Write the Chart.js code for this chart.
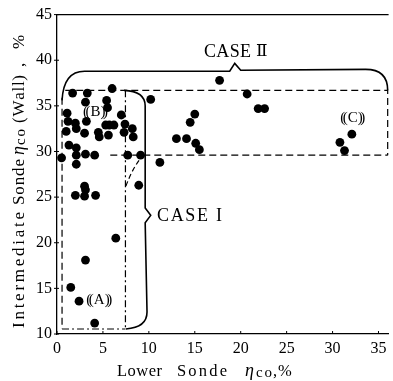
<!DOCTYPE html>
<html>
<head>
<meta charset="utf-8">
<script src="https://cdn.jsdelivr.net/npm/chart.js@4"></script>
<style>
html,body{margin:0;padding:0;background:#fff;}
#c{display:block;}
</style>
</head>
<body>
<canvas id="c" width="393" height="381"></canvas>
<script>
// ---- data ----
const lowerSonde = [
  0.5,1.1,1.2,1.0,1.3,1.7,2.0,2.1,2.1,2.1,2.1,3.0,3.1,3.3,3.1,3.2,4.1,4.5,4.6,5.4,
  5.5,5.3,5.7,6.2,5.6,6.0,7.0,7.4,7.3,8.2,8.3,7.7,9.1,8.9,10.2,11.2,
  2.0,3.0,3.1,3.0,4.2,6.4,3.1,1.5,2.4,4.1,
  13.0,14.1,14.5,15.0,15.1,15.5,17.7,20.7,21.9,22.6,30.8,31.3,32.1
];
const intermediateSonde = [
  29.3,34.2,33.3,32.2,30.7,36.4,33.1,32.5,30.4,29.6,28.6,32.0,29.7,36.4,35.4,33.3,29.6,32.1,31.6,35.6,
  34.8,32.9,32.9,32.9,31.8,36.9,34.0,33.0,32.1,32.5,31.6,29.6,29.6,26.3,35.7,28.8,
  25.2,26.2,25.8,25.1,25.2,20.5,18.1,15.1,13.6,11.2,
  31.4,31.4,33.2,34.1,30.9,30.2,37.8,36.3,34.7,34.7,31.0,30.1,31.9
];
const xTicks = [0,5,10,15,20,25,30,35];
const yTicks = [10,15,20,25,30,35,40,45];
const xRange = [0, 36.1];
const yRange = [10, 45];

const points = lowerSonde.map((x,i)=>({x:x, y:intermediateSonde[i]}));

const SERIF = '"Liberation Serif","DejaVu Serif",serif';

// draw a word letter by letter, spread to a given width
function drawFit(ctx, t, x, y, w, font){
  ctx.font = font;
  ctx.textAlign = 'left';
  const ch = [...t];
  const ws = ch.map(c=>ctx.measureText(c).width);
  const nat = ws.reduce((a,b)=>a+b,0);
  const sp = ch.length>1 ? (w-nat)/(ch.length-1) : 0;
  let cx = x;
  ch.forEach((c,i)=>{ ctx.fillText(c, cx, y); cx += ws[i] + sp; });
}

const annot = {
  id:'annot',
  afterDatasetsDraw(chart){
    const ctx = chart.ctx, sx = chart.scales.x, sy = chart.scales.y, a = chart.chartArea;
    const X = v=>sx.getPixelForValue(v), Y = v=>sy.getPixelForValue(v);
    ctx.save();
    ctx.strokeStyle = '#000'; ctx.fillStyle = '#000';
    // top border and tick marks
    ctx.lineWidth = 1.3;
    ctx.beginPath(); ctx.moveTo(a.left, Y(45)); ctx.lineTo(a.right, Y(45)); ctx.stroke();
    ctx.lineWidth = 1;
    xTicks.forEach(t=>{ctx.beginPath(); ctx.moveTo(X(t), a.bottom); ctx.lineTo(X(t), a.bottom-3); ctx.stroke();});
    yTicks.forEach(t=>{ctx.beginPath(); ctx.moveTo(a.left-3, Y(t)); ctx.lineTo(a.left+2, Y(t)); ctx.stroke();});

    // dashed region boundaries
    ctx.lineWidth = 1.2;
    ctx.setLineDash([7,4]);
    const seg = (pts)=>{ctx.beginPath(); pts.forEach((p,i)=> i?ctx.lineTo(X(p[0]),Y(p[1])):ctx.moveTo(X(p[0]),Y(p[1]))); ctx.stroke();};
    seg([[0.9,36.7],[36.0,36.7],[36.0,29.6]]);
    seg([[5.8,29.6],[36.0,29.6]]);
    seg([[0.55,35.9],[0.55,10.55]]);
    ctx.setLineDash([7,3,2,3]);
    seg([[0.55,10.55],[7.45,10.55]]);
    seg([[7.45,36.7],[7.45,10.55]]);
    ctx.setLineDash([5,3]);
    ctx.beginPath(); ctx.moveTo(X(7.5),Y(26.2)); ctx.quadraticCurveTo(X(8.3),Y(28.4),X(9.4),Y(29.6)); ctx.stroke();

    // CASE II brace
    ctx.setLineDash([]);
    ctx.lineWidth = 1.6;
    ctx.beginPath();
    ctx.moveTo(X(0.55),Y(35.6));
    ctx.quadraticCurveTo(X(0.7),Y(38.8),X(3.0),Y(38.8));
    ctx.lineTo(X(18.8),Y(38.8));
    ctx.lineTo(X(19.35),Y(39.65));
    ctx.lineTo(X(20.0),Y(38.9));
    ctx.lineTo(X(33.6),Y(39.0));
    ctx.quadraticCurveTo(X(36.0),Y(39.0),X(36.0),Y(36.7));
    ctx.stroke();
    // CASE I brace
    ctx.beginPath();
    ctx.moveTo(X(7.3),Y(36.7));
    ctx.quadraticCurveTo(X(9.6),Y(36.6),X(9.6),Y(35.0));
    ctx.lineTo(X(9.6),Y(23.8));
    ctx.lineTo(X(10.2),Y(23.0));
    ctx.lineTo(X(9.6),Y(22.2));
    ctx.lineTo(X(9.8),Y(12.4));
    ctx.quadraticCurveTo(X(9.8),Y(10.7),X(7.5),Y(10.55));
    ctx.stroke();

    // text labels
    ctx.textBaseline = 'middle';
    drawFit(ctx, 'CASE', 204, 52, 47, '18px '+SERIF);
    drawFit(ctx, 'Ⅱ', 256, 52, 10, '17px '+SERIF);
    drawFit(ctx, 'CASE', 157, 216, 51, '18px '+SERIF);
    drawFit(ctx, 'I', 216, 216, 6, '18px '+SERIF);

    const paren = (t, vx, vy)=>{
      const cx = X(vx), cy = Y(vy);
      ctx.font = '15px ' + SERIF;
      ctx.textAlign = 'center';
      ctx.fillText('(' + t + ')', cx, cy);
      const w = ctx.measureText('(' + t + ')').width;
      ctx.textAlign = 'left'; ctx.fillText('(', cx - w/2 - 2.5, cy);
      ctx.textAlign = 'right'; ctx.fillText(')', cx + w/2 + 2.5, cy);
    };
    paren('B', 4.2, 34.3);
    paren('A', 4.6, 13.7);
    paren('C', 32.2, 33.7);

    // axis titles
    ctx.textBaseline = 'alphabetic';
    const F = '16.5px '+SERIF;
    drawFit(ctx, 'Lower', 117, 376, 45, F);
    drawFit(ctx, 'Sonde', 177, 376, 50, F);
    drawFit(ctx, 'η', 245, 376, 9, 'italic 18px '+SERIF);
    drawFit(ctx, 'co', 256, 377, 16, '15px '+SERIF);
    drawFit(ctx, ',', 273, 376, 4, F);
    drawFit(ctx, '%', 278, 376, 13, F);

    ctx.save();
    ctx.translate(24, 328);
    ctx.rotate(-Math.PI/2);
    const FY = '17px '+SERIF;
    drawFit(ctx, 'Intermediate', 0, 0, 116, FY);
    drawFit(ctx, 'Sonde', 123, 0, 46, FY);
    drawFit(ctx, 'η', 173, 0, 9, 'italic 18px '+SERIF);
    drawFit(ctx, 'co', 183, 1, 16, '15px '+SERIF);
    drawFit(ctx, '(Wall)', 205, 0, 48, FY);
    drawFit(ctx, ',', 261, 0, 4, FY);
    drawFit(ctx, '%', 279, 0, 13, FY);
    ctx.restore();
    ctx.restore();
  }
};

new Chart(document.getElementById('c'), {
  type:'scatter',
  data:{ datasets:[{ data:points, pointRadius:4.4, pointHoverRadius:4.4,
    backgroundColor:'#000', borderColor:'#000', borderWidth:0 }]},
  options:{
    responsive:false, animation:false, devicePixelRatio:1,
    layout:{padding:{top:14,right:0,left:0,bottom:0}},
    plugins:{legend:{display:false}, tooltip:{enabled:false}},
    scales:{
      x:{ type:'linear', min:xRange[0], max:xRange[1],
        afterFit:s=>{s.height=47;},
        afterBuildTicks:s=>{s.ticks = xTicks.map(v=>({value:v}));},
        ticks:{ includeBounds:false, padding:5, color:'#000', font:{family:SERIF, size:16}, maxRotation:0 },
        grid:{display:false, drawTicks:false},
        border:{display:true, color:'#000', width:1.3}
      },
      y:{ type:'linear', min:yRange[0], max:yRange[1],
        afterFit:s=>{s.width=57;},
        afterBuildTicks:s=>{s.ticks = yTicks.map(v=>({value:v}));},
        ticks:{ includeBounds:false, padding:5, color:'#000', font:{family:SERIF, size:16} },
        grid:{display:false, drawTicks:false},
        border:{display:true, color:'#000', width:1.3}
      }
    }
  },
  plugins:[annot]
});
</script>
</body>
</html>
